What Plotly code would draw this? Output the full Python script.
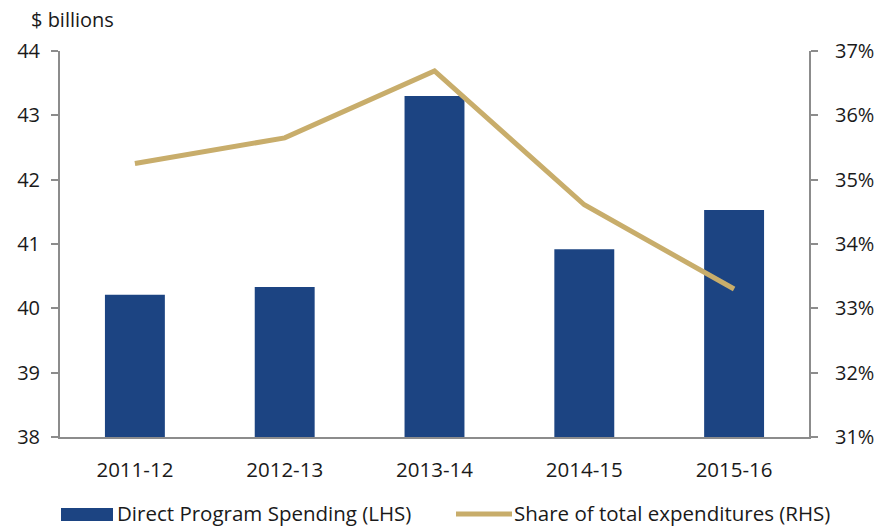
import plotly.graph_objects as go

categories = ["2011-12", "2012-13", "2013-14", "2014-15", "2015-16"]
spending = [40.21, 40.33, 43.30, 40.92, 41.53]
share = [35.25, 35.65, 36.69, 34.61, 33.30]
left_ticks = [38, 39, 40, 41, 42, 43, 44]
right_ticks = [31, 32, 33, 34, 35, 36, 37]
right_tick_labels = [f"{v}%" for v in right_ticks]

BAR = "#1c4482"
LINE = "#c8ad6b"
AX = "#8c8c8c"
TXT = "#1a1a1a"
FONT = "Open Sans"

fig = go.Figure()
fig.add_trace(go.Bar(x=categories, y=spending, marker=dict(color=BAR, line=dict(width=0)),
                     width=0.4, name="Direct Program Spending (LHS)", yaxis="y"))
fig.add_trace(go.Scatter(x=categories, y=share, mode="lines",
                         line=dict(color=LINE, width=5), name="Share of total expenditures (RHS)",
                         yaxis="y2"))

L, R, T, B = 60, 72, 51, 90
W, H = 881, 527
pw, ph = W - L - R, H - T - B

def px(p):
    return (p - L) / pw

def py(q):
    return (H - B - q) / ph

fig.update_layout(
    width=W, height=H,
    margin=dict(l=L, r=R, t=T, b=B, pad=0, autoexpand=False),
    plot_bgcolor="white", paper_bgcolor="white",
    showlegend=False,
    font=dict(family=FONT, size=20, color=TXT),
    xaxis=dict(type="category", showgrid=False, showline=True, linecolor=AX, linewidth=2, ticks="",
               tickfont=dict(size=20.5), ticklabelstandoff=13, zeroline=False),
    yaxis=dict(range=[38, 44], tickvals=left_ticks, showgrid=False, showline=True,
               linecolor=AX, linewidth=2, ticks="outside", ticklen=7, tickcolor=AX,
               tickwidth=1.5, zeroline=False, tickfont=dict(size=20), ticklabelstandoff=7),
    yaxis2=dict(range=[31, 37], tickvals=right_ticks, ticktext=right_tick_labels,
                overlaying="y", side="right", showgrid=False, showline=True,
                linecolor=AX, linewidth=2, ticks="outside", ticklen=7, tickcolor=AX,
                tickwidth=1.5, zeroline=False, tickfont=dict(size=20), ticklabelstandoff=13),
)

fig.add_annotation(text="$ billions", xref="paper", yref="paper", x=px(29), y=py(20),
                   xanchor="left", yanchor="middle", showarrow=False, font=dict(size=20))

# manual legend
fig.add_shape(type="rect", xref="paper", yref="paper", x0=px(61), x1=px(113), y0=py(521), y1=py(508),
              fillcolor=BAR, line=dict(width=0))
fig.add_annotation(text="Direct Program Spending (LHS)", xref="paper", yref="paper", x=px(115), y=py(513),
                   xanchor="left", yanchor="middle", showarrow=False, font=dict(size=20.5))
fig.add_shape(type="line", xref="paper", yref="paper", x0=px(456), x1=px(512), y0=py(514), y1=py(514),
              line=dict(color=LINE, width=5))
fig.add_annotation(text="Share of total expenditures (RHS)", xref="paper", yref="paper", x=px(512), y=py(513),
                   xanchor="left", yanchor="middle", showarrow=False, font=dict(size=20.5))

fig.write_html("out.html", config={"displayModeBar": False},
               post_script="document.body.style.margin='0';document.body.style.overflow='hidden';")
